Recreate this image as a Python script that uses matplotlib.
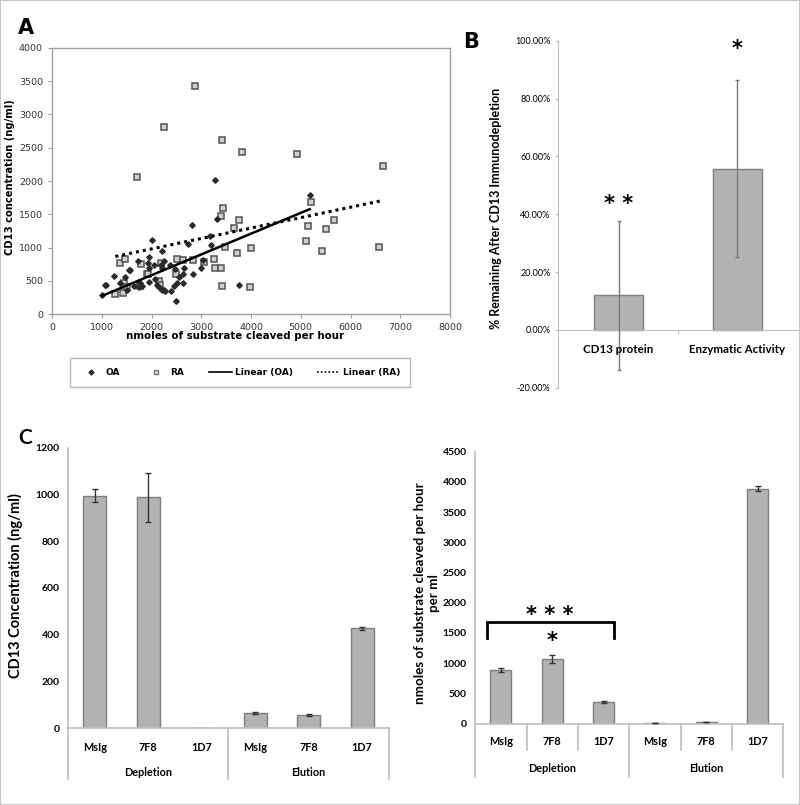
import numpy as np
import matplotlib.pyplot as plt
from matplotlib.patches import Rectangle
from matplotlib.lines import Line2D
from matplotlib.ticker import FuncFormatter

# ---- panel A: CD13 concentration vs activity ----
oa_x = [3282, 5178, 2813, 3315, 2003, 3181, 2733, 3195, 2204, 1956, 1728, 1239, 1092,
        1011, 1540, 1473, 1929, 1956, 2050, 2244, 2076, 2217, 2378, 2478, 2632, 2632,
        2559, 2659, 2843, 2998, 3027, 2492, 2398, 2244, 2177, 2110, 2458, 2512, 1741,
        1808, 1641, 1507, 1373, 3751, 1741, 1942, 2209, 2275, 1070, 1558, 2195]
oa_y = [2015, 1790, 1340, 1425, 1120, 1175, 1050, 1035, 950, 860, 795, 565, 435,
        280, 660, 555, 765, 685, 735, 790, 525, 685, 740, 675, 605, 470,
        550, 695, 600, 690, 815, 190, 345, 355, 390, 430, 415, 465, 405,
        415, 415, 365, 465, 430, 475, 480, 365, 340, 440, 665, 740]

ra_x = [2880, 2257, 3416, 3818, 4923, 6651, 1715, 5204, 3429, 3402, 3764, 5660, 3650,
        5144, 5512, 5110, 5425, 6564, 3483, 3717, 4005, 3248, 3047, 2833, 2512, 2632,
        3280, 3389, 3416, 3972, 1360, 1460, 1788, 1909, 2141, 1438, 1507, 1273, 1424,
        1773, 2175, 2496, 2193, 1920]
ra_y = [3430, 2805, 2610, 2440, 2410, 2220, 2065, 1690, 1600, 1475, 1410, 1420, 1300,
        1325, 1275, 1100, 950, 1015, 1010, 925, 990, 825, 780, 810, 825, 810,
        690, 690, 425, 400, 770, 826, 748, 600, 490, 474, 405, 300, 320,
        414, 430, 600, 770, 600]

# Excel linear trendlines: slope, intercept
oa_trend = [0.3123, -41]
ra_trend = [0.1567, 666]

# ---- panel B ----
b_labels = ["CD13 protein", "Enzymatic Activity"]
b_vals = [0.119, 0.558]
b_err = [0.257, 0.307]
b_stars = ["* *", "*"]
b_star_y = [0.437, 0.97]

# ---- panel C ----
c_cats = ["MsIg", "7F8", "1D7", "MsIg", "7F8", "1D7"]
c_groups = ["Depletion", "Elution"]
conc_vals = [995, 987, 0, 65, 58, 428]
conc_err = [27, 105, 0, 4, 4, 7]
act_vals = [885, 1070, 358, 15, 30, 3888]
act_err = [30, 65, 15, 3, 6, 40]

axis_grey = "#bfbfbf"
bar_fill = "#b3b3b3"
bar_edge = "#7f7f7f"

fig = plt.figure(figsize=(8, 8.05), dpi=100)
fig.patches.append(Rectangle((0, 0), 1, 1, transform=fig.transFigure, fill=False,
                             edgecolor="#c8c8c8", lw=1.5))

# ================= A =================
axA = fig.add_axes([0.065, 0.6099, 0.4975, 0.3305])
axA.plot(ra_x, ra_y, ls="none", marker="s", ms=4.6, mfc="#d0d0d0", mec="#555555", mew=1.1)
axA.plot(oa_x, oa_y, ls="none", marker="D", ms=2.8, mfc="#2a2a2a", mec="#2a2a2a")

xo = np.array([min(oa_x), max(oa_x)])
xr = np.array([min(ra_x), max(ra_x)])
axA.plot(xo, np.polyval(oa_trend, xo), color="black", lw=1.8)
axA.plot(xr, np.polyval(ra_trend, xr), color="black", lw=2.2, ls=(0, (1, 1.3)))

axA.set_xlim(0, 8000)
axA.set_ylim(0, 4000)
axA.set_xticks(range(0, 8001, 1000))
axA.set_yticks(range(0, 4001, 500))
for s in axA.spines.values():
    s.set_color("#a0a0a0")
    s.set_linewidth(1.0)
axA.tick_params(colors="#a0a0a0", labelcolor="#333333", labelsize=6.8, length=3)
axA.set_ylabel("CD13 concentration (ng/ml)", fontsize=7.2, fontweight="bold")
axA.yaxis.set_label_coords(-0.093, 0.515)
axA.set_xlabel("nmoles of substrate cleaved per hour", fontsize=7.4, fontweight="bold")
axA.xaxis.set_label_coords(0.46, -0.062)

handles = [
    Line2D([], [], ls="none", marker="D", ms=2.5, mfc="#2a2a2a", mec="#2a2a2a"),
    Line2D([], [], ls="none", marker="s", ms=3.5, mfc="#e0e0e0", mec="#777777"),
    Line2D([], [], color="black", lw=1.2),
    Line2D([], [], color="black", lw=1.2, ls=(0, (1, 1.3))),
]
leg = fig.legend(handles, ["OA", "RA", "Linear (OA)", "Linear (RA)"],
                 loc="center", bbox_to_anchor=(65 / 800, 1 - 390 / 805, 350 / 800, 35 / 805),
                 mode="expand", ncol=4, frameon=True, fancybox=False, handlelength=2.6,
                 prop={"size": 6.5, "weight": "bold"}, borderpad=1.1, handletextpad=0.3)
leg.get_frame().set_edgecolor("#a8a8a8")
leg.get_frame().set_linewidth(1.0)

fig.text(18 / 800, 1 - 28 / 805, "A", fontsize=15, fontweight="bold", va="center")

# ================= B =================
cal = ["Lato", "DejaVu Sans"]
axB = fig.add_axes([0.6975, 0.5184, 0.30, 0.431])
xb = np.arange(len(b_vals))
axB.bar(xb, b_vals, width=0.41, color=bar_fill, edgecolor=bar_edge, lw=1.0, zorder=2)
axB.errorbar(xb, b_vals, yerr=b_err, fmt="none", ecolor="#7a7a7a", elinewidth=1.0,
             capsize=1.5, zorder=3)
axB.set_xlim(-0.51, 1.51)
axB.set_ylim(-0.2, 1.0)
axB.set_yticks(np.arange(-0.2, 1.01, 0.2))
axB.yaxis.set_major_formatter(FuncFormatter(lambda v, p: f"{v * 100:.2f}%"))
for lab in axB.get_yticklabels():
    lab.set_family(cal)
axB.tick_params(axis="y", labelsize=6.5, length=2, color=axis_grey)
axB.spines["top"].set_visible(False)
axB.spines["right"].set_visible(False)
axB.spines["left"].set_color(axis_grey)
axB.spines["bottom"].set_position(("data", 0))
axB.spines["bottom"].set_color(axis_grey)
axB.set_xticks([0.5])
axB.set_xticklabels([""])
axB.tick_params(axis="x", length=3, color=axis_grey, direction="out")
for i, lab in enumerate(b_labels):
    axB.text(i, -0.068, lab, ha="center", va="center", fontsize=8.3, fontweight="bold",
             family=cal)
for i, st in enumerate(b_stars):
    axB.text(i, b_star_y[i], st, ha="center", va="center", fontsize=15, fontweight="bold")
axB.set_ylabel("% Remaining After CD13 Immunodepletion", fontsize=9, fontweight="bold",
               family=cal)
axB.yaxis.set_label_coords(-0.235, 0.518)
fig.text(463 / 800, 1 - 42 / 805, "B", fontsize=15, fontweight="bold", va="center")


# ================= C =================
def group_axis(ax, lab_y, grp_y, grp_bottom, cat_bottom=None):
    n = len(c_cats)
    ax.set_xlim(-0.5, n - 0.5)
    ax.set_xticks([])
    tr = ax.get_xaxis_transform()
    for i, c in enumerate(c_cats):
        ax.text(i, lab_y, c, transform=tr, ha="center", va="center", fontsize=7.8,
                fontweight="bold", family=cal)
    per = n // len(c_groups)
    for g, name in enumerate(c_groups):
        ax.text(g * per + (per - 1) / 2, grp_y, name, transform=tr, ha="center",
                va="center", fontsize=7.8, fontweight="bold", family=cal)
    for g in range(len(c_groups) + 1):
        xg = g * per - 0.5
        ax.plot([xg, xg], [0, grp_bottom], transform=tr, color=axis_grey, lw=1.2,
                clip_on=False)
    if cat_bottom is not None:
        for i in range(n - 1):
            if (i + 1) % per:
                ax.plot([i + 0.5, i + 0.5], [0, cat_bottom], transform=tr,
                        color=axis_grey, lw=1.2, clip_on=False)
    for s in ["top", "right"]:
        ax.spines[s].set_visible(False)
    ax.spines["left"].set_color(axis_grey)
    ax.spines["bottom"].set_color(axis_grey)
    ax.spines["left"].set_linewidth(1.2)
    ax.spines["bottom"].set_linewidth(1.2)
    ax.tick_params(axis="y", labelsize=7.5, length=0, pad=6)
    for lab in ax.get_yticklabels():
        lab.set_fontweight("bold")
        lab.set_family(cal)


def bars_with_err(ax, vals, errs, width):
    x = np.arange(len(vals))
    ax.bar(x, vals, width=width, color=bar_fill, edgecolor=bar_edge, lw=1.0, zorder=2)
    has = np.array(errs) > 0
    ax.errorbar(x[has], np.array(vals)[has], yerr=np.array(errs)[has], fmt="none",
                ecolor="#333333", elinewidth=1.0, capsize=2, capthick=1.0, zorder=3)


axC1 = fig.add_axes([0.085, 0.0953, 0.401, 0.3486])
bars_with_err(axC1, conc_vals, conc_err, 0.43)
axC1.set_ylim(0, 1200)
axC1.set_yticks(range(0, 1201, 200))
group_axis(axC1, -0.067, -0.156, -0.18)
axC1.set_ylabel("CD13 Concentration (ng/ml)", fontsize=10.5, fontweight="bold", family=cal)
axC1.yaxis.set_label_coords(-0.14, 0.507)

axC2 = fig.add_axes([0.594, 0.101, 0.385, 0.338])
bars_with_err(axC2, act_vals, act_err, 0.41)
axC2.set_ylim(0, 4500)
axC2.set_yticks(range(0, 4501, 500))
group_axis(axC2, -0.066, -0.163, -0.196, cat_bottom=-0.097)
axC2.set_ylabel("nmoles of substrate cleaved per hour\nper ml", fontsize=9.6,
                fontweight="bold", family=cal, linespacing=1.25)
axC2.yaxis.set_label_coords(-0.114, 0.48)

# significance bracket Depletion MsIg vs 1D7
br_top, br_leg = 1687, 1411
axC2.plot([-0.27, -0.27, 2.2, 2.2], [br_leg, br_top, br_top, br_leg], color="black",
          lw=2.0, solid_joinstyle="miter")
axC2.text(0.95, 1800, "* * *", ha="center", va="center", fontsize=15, fontweight="bold")
axC2.text(1, 1360, "*", ha="center", va="center", fontsize=15, fontweight="bold")

fig.text(18 / 800, 1 - 438 / 805, "C", fontsize=15, fontweight="bold", va="center",
         family=cal)

fig.savefig("out.png", dpi=100)
